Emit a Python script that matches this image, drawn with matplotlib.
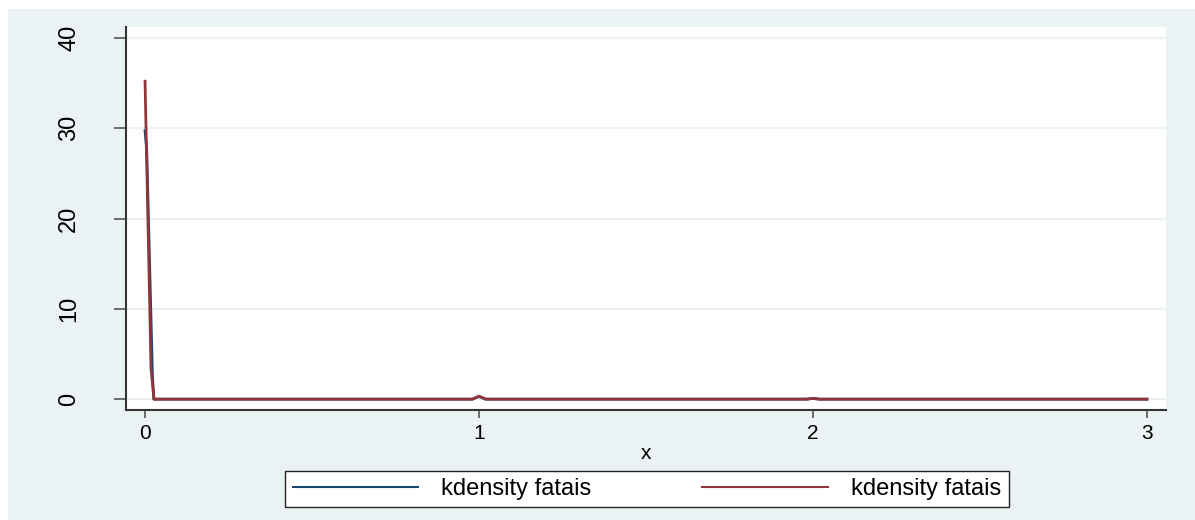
import matplotlib
matplotlib.use("Agg")
import matplotlib.pyplot as plt
from matplotlib.patches import Rectangle

plt.rcParams["font.family"] = ["Liberation Sans", "DejaVu Sans"]

# kernel density estimates
x_blue = [0.0, 0.005, 0.022, 0.026, 0.98, 1.0, 1.02, 1.98, 2.0, 2.02, 3.0]
y_blue = [29.7, 27.6, 2.8, 0.0, 0.0, 0.3, 0.0, 0.0, 0.08, 0.0, 0.0]
x_red = [0.0, 0.018, 0.027, 0.98, 1.0, 1.02, 1.98, 2.0, 2.02, 3.0]
y_red = [35.2, 3.3, 0.0, 0.0, 0.33, 0.0, 0.0, 0.08, 0.0, 0.0]
labels = ["kdensity fatais", "kdensity fatais"]
xticks = [0, 1, 2, 3]
yticks = [0, 10, 20, 30, 40]

bg = "#eaf2f3"
navy = "#1a476f"
maroon = "#90353b"

fig = plt.figure(figsize=(11.95, 5.2), dpi=100)
fig.patch.set_facecolor("white")
fig.patches.append(Rectangle((8 / 1195, 0), 1, 1 - 9 / 520, transform=fig.transFigure,
                             facecolor=bg, edgecolor="none", zorder=-10))

ax = fig.add_axes([126 / 1195, 1 - 410 / 520, 1040 / 1195, 383 / 520])
ax.set_facecolor("white")

ax.plot(x_blue, y_blue, color=navy, lw=2, label=labels[0])
ax.plot(x_red, y_red, color=maroon, lw=2, label=labels[1])

ax.set_xlim(-0.057, 3.057)
ax.set_ylim(-1.2, 41.2)
ax.set_xticks(xticks)
ax.set_yticks(yticks)
ax.set_yticklabels([str(v) for v in yticks], rotation=90, va="center")
ax.tick_params(axis="x", labelsize=15, length=6, width=1.2, color="#555555", pad=4)
ax.tick_params(axis="y", labelsize=17, length=9, width=1.2, color="#555555", pad=24)
ax.grid(axis="y", color="#eaf2f3", lw=1.5)
ax.set_axisbelow(True)
for s in ["top", "right"]:
    ax.spines[s].set_visible(False)
for s in ["left", "bottom"]:
    ax.spines[s].set_color("#333333")
    ax.spines[s].set_linewidth(1.5)
ax.set_xlabel("x", fontsize=15, labelpad=1)

leg = fig.legend(loc="center", bbox_to_anchor=(647 / 1195, 1 - 489 / 520), ncol=2,
                 fontsize=17, frameon=True, fancybox=False, framealpha=1,
                 facecolor="white", handlelength=5.3, columnspacing=4.7,
                 handletextpad=1.0, borderpad=0.3, borderaxespad=0)
leg.get_frame().set_edgecolor("#222222")
leg.get_frame().set_linewidth(1.0)
for h in leg.get_lines():
    h.set_linewidth(1.5)

fig.savefig("out.png", dpi=100, facecolor=fig.get_facecolor())
